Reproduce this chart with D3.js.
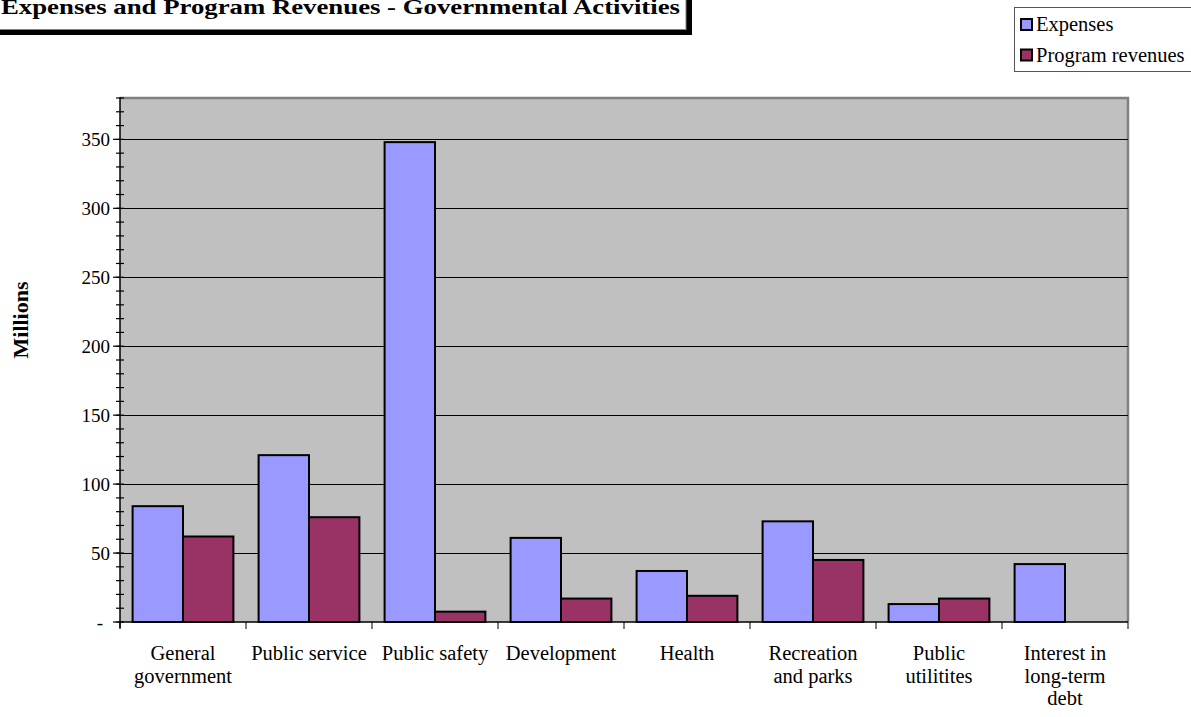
<!DOCTYPE html>
<html>
<head>
<meta charset="utf-8">
<script src="https://cdn.jsdelivr.net/npm/d3@7"></script>
<style>
  html, body { margin: 0; padding: 0; background: #fff; }
  svg { display: block; font-family: "Liberation Serif", "Times New Roman", serif; }
</style>
</head>
<body>
<svg id="chart" width="1191" height="717"></svg>
<script>
const categories = [
  ["General", "government"],
  ["Public service"],
  ["Public safety"],
  ["Development"],
  ["Health"],
  ["Recreation", "and parks"],
  ["Public", "utilitites"],
  ["Interest in", "long-term", "debt"]
];
const expenses = [84, 121, 348, 61, 37, 73, 13, 42];
const programRevenues = [62, 76, 7.5, 17, 19, 45, 17, 0];
const seriesNames = ["Expenses", "Program revenues"];
const seriesColors = ["#9999FF", "#993366"];
const yMajorTicks = [0, 50, 100, 150, 200, 250, 300, 350];
const yMax = 380;

const svg = d3.select("#chart");
const plot = { left: 120, right: 1128, top: 98, bottom: 622 };

const x = d3.scaleBand()
  .domain(d3.range(categories.length))
  .range([plot.left, plot.right])
  .paddingInner(0).paddingOuter(0);
const y = d3.scaleLinear().domain([0, yMax]).range([plot.bottom, plot.top]);

// Title box with shadow
const titleG = svg.append("g");
titleG.append("rect").attr("x", -5).attr("y", -5).attr("width", 697).attr("height", 40).attr("fill", "#000");
titleG.append("rect").attr("x", -10).attr("y", -10).attr("width", 696).attr("height", 39.5)
  .attr("fill", "#fff").attr("stroke", "#808080").attr("stroke-width", 1);
titleG.append("text").attr("x", 1).attr("y", 14)
  .attr("font-size", 22).attr("font-weight", "bold").attr("fill", "#000")
  .attr("textLength", 679).attr("lengthAdjust", "spacingAndGlyphs")
  .text("Expenses and Program Revenues - Governmental Activities");

// Plot area
svg.append("rect")
  .attr("x", plot.left).attr("y", plot.top)
  .attr("width", plot.right - plot.left).attr("height", plot.bottom - plot.top)
  .attr("fill", "#C0C0C0");
svg.append("path")
  .attr("d", `M${plot.left},${plot.top}H${plot.right}V${plot.bottom}`)
  .attr("fill", "none").attr("stroke", "#808080").attr("stroke-width", 2.5);

// Gridlines
svg.append("g").selectAll("line")
  .data(yMajorTicks.filter(d => d > 0))
  .join("line")
  .attr("x1", plot.left).attr("x2", plot.right)
  .attr("y1", d => Math.round(y(d)) + 0.5).attr("y2", d => Math.round(y(d)) + 0.5)
  .attr("stroke", "#000").attr("stroke-width", 1);

// Bars
const bw = x.bandwidth() / 2.5;
const series = [expenses, programRevenues];
series.forEach((vals, si) => {
  svg.append("g").selectAll("rect")
    .data(vals.map((v, i) => ({ v, i })).filter(d => d.v > 0))
    .join("rect")
    .attr("x", d => x(d.i) + bw * 0.25 + si * bw)
    .attr("y", d => y(d.v))
    .attr("width", bw)
    .attr("height", d => y(0) - y(d.v))
    .attr("fill", seriesColors[si])
    .attr("stroke", "#000").attr("stroke-width", 2);
});

// Y axis
const yAxisG = svg.append("g").attr("transform", `translate(${plot.left},0)`);
yAxisG.append("line").attr("x1", 0).attr("x2", 0).attr("y1", plot.top - 1).attr("y2", plot.bottom + 6)
  .attr("stroke", "#000").attr("stroke-width", 1.5);
yAxisG.selectAll(".minor").data(d3.range(0, yMax + 1, 10)).join("line")
  .attr("x1", -4).attr("x2", 4)
  .attr("y1", d => y(d)).attr("y2", d => y(d))
  .attr("stroke", "#000").attr("stroke-width", 1.2);
yAxisG.selectAll(".major").data(yMajorTicks).join("line")
  .attr("x1", -7).attr("x2", 0)
  .attr("y1", d => y(d)).attr("y2", d => y(d))
  .attr("stroke", "#000").attr("stroke-width", 1.2);
yAxisG.selectAll("text").data(yMajorTicks).join("text")
  .attr("x", d => d === 0 ? -17 : -10)
  .attr("y", d => y(d) + 6.5)
  .attr("text-anchor", "end")
  .attr("font-size", 19)
  .text(d => d === 0 ? "-" : d);

// X axis
const xAxisG = svg.append("g");
xAxisG.append("line").attr("x1", plot.left).attr("x2", plot.right)
  .attr("y1", plot.bottom).attr("y2", plot.bottom)
  .attr("stroke", "#000").attr("stroke-width", 1.5);
xAxisG.selectAll("line.t").data(d3.range(categories.length + 1)).join("line")
  .attr("class", "t")
  .attr("x1", i => plot.left + i * x.step()).attr("x2", i => plot.left + i * x.step())
  .attr("y1", plot.bottom).attr("y2", plot.bottom + 7)
  .attr("stroke", "#000").attr("stroke-width", 1);
const lab = xAxisG.selectAll("text").data(categories).join("text")
  .attr("text-anchor", "middle")
  .attr("font-size", 20.5)
  .attr("x", (d, i) => x(i) + x.bandwidth() / 2)
  .attr("y", 660);
lab.selectAll("tspan").data(d => d).join("tspan")
  .attr("x", function () { return d3.select(this.parentNode).attr("x"); })
  .attr("dy", (d, j) => j === 0 ? 0 : 22.5)
  .text(d => d);

// Y axis title
svg.append("text")
  .attr("transform", "translate(28,320) rotate(-90)")
  .attr("text-anchor", "middle")
  .attr("font-size", 22).attr("font-weight", "bold")
  .text("Millions");

// Legend
const lg = svg.append("g");
lg.append("rect").attr("x", 1014.5).attr("y", 7.5).attr("width", 190).attr("height", 64)
  .attr("fill", "#fff").attr("stroke", "#555").attr("stroke-width", 1);
seriesNames.forEach((name, i) => {
  lg.append("rect").attr("x", 1021).attr("y", 19 + i * 30.5).attr("width", 11).attr("height", 11)
    .attr("fill", seriesColors[i]).attr("stroke", "#000").attr("stroke-width", 2);
  lg.append("text").attr("x", 1036).attr("y", 31 + i * 30.5)
    .attr("font-size", 20.5).text(name);
});
</script>
</body>
</html>
